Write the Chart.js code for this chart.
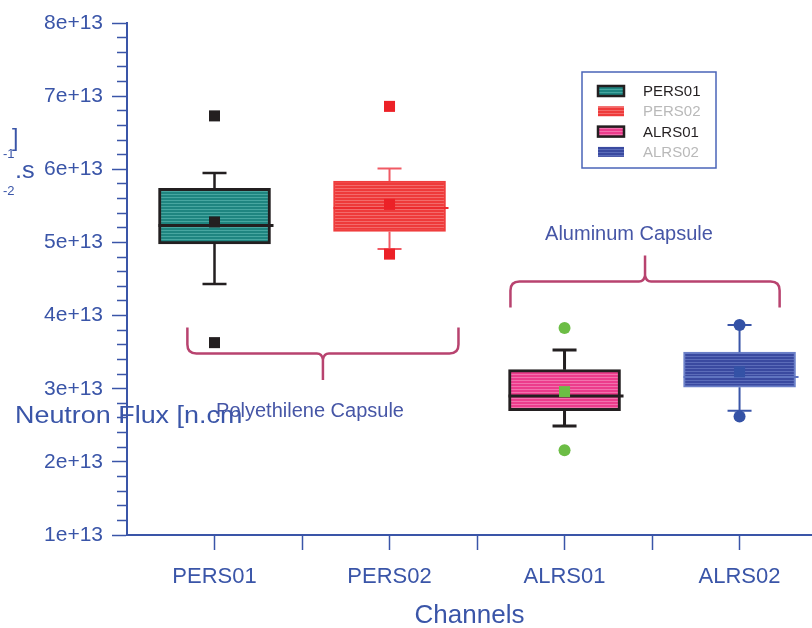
<!DOCTYPE html>
<html>
<head>
<meta charset="utf-8">
<script src="https://cdn.jsdelivr.net/npm/chart.js@4.4.1/dist/chart.umd.min.js"></script>
<style>
  html, body { margin: 0; padding: 0; background: #fff; }
  #wrap { width: 812px; height: 628px; position: relative; }
</style>
</head>
<body>
<div id="wrap"><canvas id="fluxChart"></canvas></div>
<script>
// channel names and box plot statistics (n.cm^-2.s^-1)
const channels = ['PERS01', 'PERS02', 'ALRS01', 'ALRS02'];
const whiskerLow = [4.43e13, 4.91e13, 2.49e13, 2.70e13];
const boxLow = [4.98e13, 5.15e13, 2.70e13, 3.02e13];
const medians = [5.23e13, 5.47e13, 2.90e13, 3.16e13];
const boxHigh = [5.74e13, 5.84e13, 3.26e13, 3.50e13];
const whiskerHigh = [5.95e13, 6.01e13, 3.53e13, 3.87e13];
const means = [5.28e13, 5.52e13, 2.96e13, 3.23e13];
const outliersHigh = [6.73e13, 6.86e13, 3.83e13, 3.87e13];
const outliersLow = [3.63e13, 4.84e13, 2.16e13, 2.62e13];
const yTickLabels = ['1e+13', '2e+13', '3e+13', '4e+13', '5e+13', '6e+13', '7e+13', '8e+13'];

const axisBlue = '#3a55a8';
const FONT = 'Liberation Sans, Arial, Helvetica, sans-serif';

const looks = [
  { base: '#1f8580', stripe: '#47a6a0', edge: '#231f20', edgeW: 3, whisker: '#231f20', whiskerW: 2.5, median: '#231f20', medianW: 3, marker: '#231f20', shape: 'rect', legendText: '#231f20', legendEdge: true },
  { base: '#ee3a3a', stripe: '#f36a6a', edge: '#ef3d3d', edgeW: 2, whisker: '#f05a64', whiskerW: 2, median: '#ec2a2e', medianW: 2, marker: '#ec2127', shape: 'rect', legendText: '#b9b9b9', legendEdge: false },
  { base: '#ec3c8c', stripe: '#f271ad', edge: '#231f20', edgeW: 3, whisker: '#231f20', whiskerW: 3, median: '#231f20', medianW: 3, marker: '#6cbd45', shape: 'circle', legendText: '#231f20', legendEdge: true },
  { base: '#3a4aa0', stripe: '#5b6cb9', edge: '#6b80c8', edgeW: 2, whisker: '#3a55a8', whiskerW: 2, median: '#5f74c0', medianW: 2, marker: '#3452a6', shape: 'circle', legendText: '#b9b9b9', legendEdge: false }
];

function stripes(base, stripe) {
  const c = document.createElement('canvas');
  c.width = 4; c.height = 3;
  const g = c.getContext('2d');
  g.fillStyle = base; g.fillRect(0, 0, 4, 3);
  g.fillStyle = stripe; g.fillRect(0, 2, 4, 1);
  return g.createPattern(c, 'repeat');
}
const fills = looks.map(l => stripes(l.base, l.stripe));

const BOX_W = 112;

// whiskers and medians, drawn right after the boxes
const whiskerPlugin = {
  id: 'whiskers',
  afterDatasetDraw(chart, args) {
    if (args.index !== 0) return;
    const { ctx, scales: { x, y } } = chart;
    ctx.save();
    channels.forEach((c, i) => {
      const lk = looks[i];
      const cx = x.getPixelForValue(i);
      ctx.strokeStyle = lk.whisker;
      ctx.lineWidth = lk.whiskerW;
      ctx.beginPath();
      ctx.moveTo(cx, y.getPixelForValue(boxHigh[i]));
      ctx.lineTo(cx, y.getPixelForValue(whiskerHigh[i]));
      ctx.moveTo(cx, y.getPixelForValue(boxLow[i]));
      ctx.lineTo(cx, y.getPixelForValue(whiskerLow[i]));
      [whiskerHigh[i], whiskerLow[i]].forEach(v => {
        const py = y.getPixelForValue(v);
        ctx.moveTo(cx - 12, py);
        ctx.lineTo(cx + 12, py);
      });
      ctx.stroke();
      ctx.strokeStyle = lk.median;
      ctx.lineWidth = lk.medianW;
      ctx.beginPath();
      const my = y.getPixelForValue(medians[i]);
      ctx.moveTo(cx - BOX_W / 2, my);
      ctx.lineTo(cx + BOX_W / 2 + 3, my);
      ctx.stroke();
    });
    ctx.restore();
  }
};

// broken y title fragments, as in the source figure
function wideText(ctx, s, x, y, sx) {
  ctx.save();
  ctx.translate(x, y);
  ctx.scale(sx, 1);
  ctx.fillText(s, 0, 0);
  ctx.restore();
}

const yTitlePlugin = {
  id: 'yTitle',
  beforeDraw(chart) {
    const ctx = chart.ctx;
    ctx.save();
    ctx.fillStyle = axisBlue;
    ctx.textBaseline = 'alphabetic';
    ctx.font = '23px ' + FONT;
    wideText(ctx, 'Neutron Flux [n.cm', 15, 423, 1.17);
    ctx.fillText(']', 12, 146);
    wideText(ctx, '.s', 15, 178, 1.1);
    ctx.font = '13px ' + FONT;
    ctx.fillText('-1', 3, 158);
    ctx.fillText('-2', 3, 195);
    ctx.restore();
  }
};

function brace(ctx, x, y, xL, xR, yEnd, yBar, yTip) {
  const pL = x.getPixelForValue(xL), pR = x.getPixelForValue(xR);
  const pc = (pL + pR) / 2;
  const e = y.getPixelForValue(yEnd), b = y.getPixelForValue(yBar), t = y.getPixelForValue(yTip);
  const d = Math.sign(b - e), r = 9, r2 = 6;
  ctx.beginPath();
  ctx.moveTo(pL, e);
  ctx.lineTo(pL, b - r * d);
  ctx.quadraticCurveTo(pL, b, pL + r, b);
  ctx.lineTo(pc - r2, b);
  ctx.quadraticCurveTo(pc - 1, b, pc, b + r2 * d);
  ctx.lineTo(pc, t);
  ctx.moveTo(pc, b + r2 * d);
  ctx.quadraticCurveTo(pc + 1, b, pc + r2, b);
  ctx.lineTo(pR - r, b);
  ctx.quadraticCurveTo(pR, b, pR, b - r * d);
  ctx.lineTo(pR, e);
  ctx.stroke();
}

const notesPlugin = {
  id: 'notes',
  afterDraw(chart) {
    const { ctx, scales: { x, y } } = chart;
    ctx.save();
    ctx.strokeStyle = '#b8436f';
    ctx.lineWidth = 2.5;
    brace(ctx, x, y, -0.155, 1.394, 3.836e13, 3.48e13, 3.12e13);
    brace(ctx, x, y, 1.691, 3.229, 4.11e13, 4.466e13, 4.82e13);
    ctx.fillStyle = '#4656a6';
    ctx.font = '20px ' + FONT;
    ctx.textAlign = 'center';
    ctx.textBaseline = 'alphabetic';
    ctx.fillText('Polyethilene Capsule', 310, 417);
    ctx.fillText('Aluminum Capsule', 629, 240);

    // legend box
    ctx.textAlign = 'left';
    ctx.strokeStyle = '#4a64b8';
    ctx.lineWidth = 1.5;
    ctx.strokeRect(582, 72, 134, 96);
    ctx.font = '15px ' + FONT;
    ctx.textBaseline = 'middle';
    channels.forEach((c, i) => {
      const lk = looks[i];
      const cy = 91 + i * 20.3;
      ctx.fillStyle = fills[i];
      ctx.fillRect(598, cy - 5, 26, 10);
      if (lk.legendEdge) {
        ctx.strokeStyle = '#231f20';
        ctx.lineWidth = 2.5;
        ctx.strokeRect(598, cy - 5, 26, 10);
      }
      ctx.fillStyle = lk.legendText;
      ctx.fillText(c, 643, cy + 1);
    });
    ctx.restore();
  }
};

const majorY = v => Math.abs(v / 1e13 - Math.round(v / 1e13)) < 1e-6;

new Chart(document.getElementById('fluxChart'), {
  type: 'bar',
  data: {
    datasets: [
      {
        type: 'bar',
        data: channels.map((c, i) => ({ x: i, y: [boxLow[i], boxHigh[i]] })),
        backgroundColor: fills,
        borderColor: looks.map(l => l.edge),
        borderWidth: looks.map(l => l.edgeW),
        borderSkipped: false,
        barThickness: BOX_W,
        order: 3
      },
      {
        type: 'scatter',
        data: channels.map((c, i) => ({ x: i, y: means[i] })),
        pointStyle: 'rect',
        pointRadius: 7.8,
        pointBackgroundColor: looks.map(l => l.marker),
        pointBorderWidth: 0,
        order: 1
      },
      {
        type: 'scatter',
        data: channels.map((c, i) => ({ x: i, y: outliersHigh[i] }))
          .concat(channels.map((c, i) => ({ x: i, y: outliersLow[i] }))),
        pointStyle: looks.concat(looks).map(l => l.shape),
        pointRadius: looks.concat(looks).map(l => l.shape === 'rect' ? 7.8 : 6),
        pointBackgroundColor: looks.concat(looks).map(l => l.marker),
        pointBorderWidth: 0,
        order: 0
      }
    ]
  },
  options: {
    responsive: true,
    maintainAspectRatio: false,
    animation: false,
    layout: { autoPadding: false, padding: { top: 23, left: 0, right: 0, bottom: 0 } },
    plugins: { legend: { display: false }, tooltip: { enabled: false } },
    scales: {
      x: {
        type: 'linear',
        offset: false,
        min: -0.5,
        max: 3.414,
        afterBuildTicks: s => { s.ticks = s.ticks.filter(t => t.value > -0.4); },
        afterFit: s => { s.height = 93; },
        ticks: {
          stepSize: 0.5,
          includeBounds: false,
          autoSkip: false,
          maxRotation: 0,
          padding: 14,
          color: axisBlue,
          font: { family: FONT, size: 22 },
          callback: v => Number.isInteger(v) ? channels[v] : ''
        },
        grid: { offset: false, drawOnChartArea: false, tickLength: 15, tickColor: axisBlue, tickWidth: 1.5 },
        border: { color: axisBlue, width: 2 },
        title: { display: true, text: 'Channels', color: axisBlue, font: { family: FONT, size: 26 }, padding: { top: 0, bottom: -3 } }
      },
      y: {
        min: 1e13,
        max: 8e13,
        afterFit: s => { s.width = 127; },
        ticks: {
          stepSize: 2e12,
          autoSkip: false,
          padding: 9,
          color: axisBlue,
          font: { family: FONT, size: 21 },
          callback: v => majorY(v) ? yTickLabels[Math.round(v / 1e13) - 1] : ''
        },
        grid: {
          drawOnChartArea: false,
          tickLength: 15,
          tickColor: axisBlue,
          tickWidth: 1.5,
          tickBorderDash: c => (c.tick && majorY(c.tick.value)) ? [] : [0, 5, 10]
        },
        border: { color: axisBlue, width: 2 }
      }
    }
  },
  plugins: [yTitlePlugin, whiskerPlugin, notesPlugin]
});
</script>
</body>
</html>
